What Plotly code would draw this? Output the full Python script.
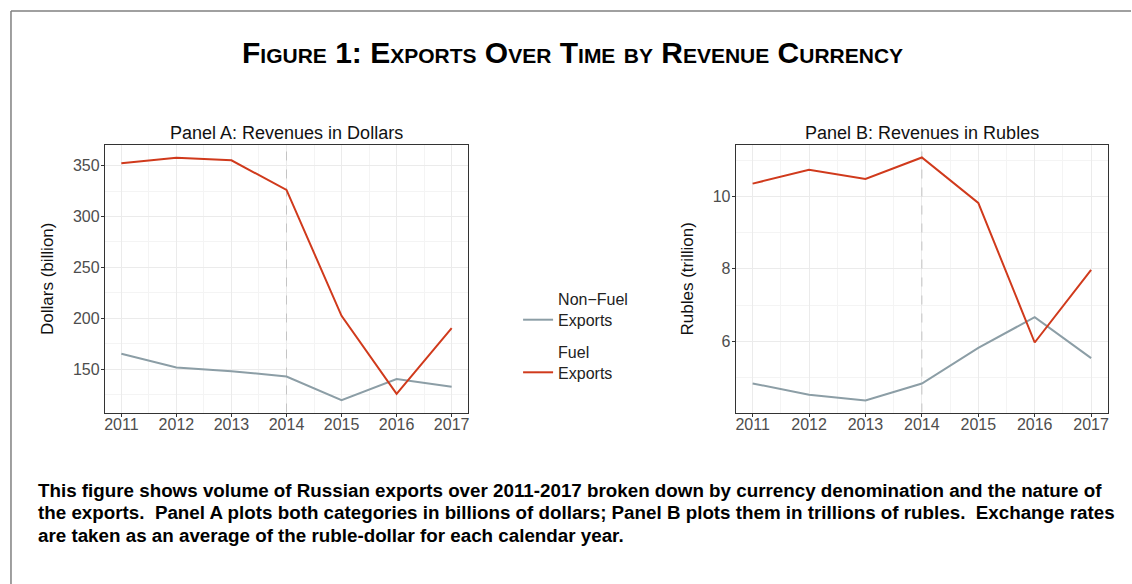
import plotly.graph_objects as go

years = [2011, 2012, 2013, 2014, 2015, 2016, 2017]
fuel_usd = [352.3, 357.8, 355.3, 326.1, 202.4, 125.8, 190.3]
nonfuel_usd = [165.1, 151.6, 148.0, 142.8, 119.6, 140.2, 132.6]
fuel_rub = [10.35, 10.73, 10.48, 11.07, 9.82, 5.97, 7.97]
nonfuel_rub = [4.84, 4.53, 4.37, 4.84, 5.82, 6.67, 5.54]
event_year = 2014

series_names = ["Non\u2212Fuel<br>Exports", "Fuel<br>Exports"]
panel_titles = ["Panel A: Revenues in Dollars", "Panel B: Revenues in Rubles"]
y_titles = ["Dollars (billion)", "Rubles (trillion)"]
main_title = "Figure 1: Exports Over Time by Revenue Currency"
caption_lines = [
    "This figure shows volume of Russian exports over 2011-2017 broken down by currency denomination and the nature of",
    "the exports.  Panel A plots both categories in billions of dollars; Panel B plots them in trillions of rubles.  Exchange rates",
    "are taken as an average of the ruble-dollar for each calendar year.",
]

RED = "#d03a1c"
GREY = "#8c9ea6"
W, H = 1132, 584
FONT = "Liberation Sans, Arial"

fig = go.Figure()

# Dashed reference line at event year (drawn as traces beneath the data lines)
for xa, ya, rng in [("x", "y", [107.4, 370.3]), ("x2", "y2", [4.04, 11.415])]:
    fig.add_trace(go.Scatter(x=[event_year, event_year], y=rng, mode="lines", showlegend=False,
                             hoverinfo="skip", line=dict(color="#c4c4c4", width=1, dash="dash"),
                             xaxis=xa, yaxis=ya))

fig.add_trace(go.Scatter(x=years, y=nonfuel_usd, mode="lines", name=series_names[0],
                         line=dict(color=GREY, width=2), xaxis="x", yaxis="y", legendgroup="nf"))
fig.add_trace(go.Scatter(x=years, y=fuel_usd, mode="lines", name=series_names[1],
                         line=dict(color=RED, width=2), xaxis="x", yaxis="y", legendgroup="f"))
fig.add_trace(go.Scatter(x=years, y=nonfuel_rub, mode="lines", name=series_names[0], showlegend=False,
                         line=dict(color=GREY, width=2), xaxis="x2", yaxis="y2", legendgroup="nf"))
fig.add_trace(go.Scatter(x=years, y=fuel_rub, mode="lines", name=series_names[1], showlegend=False,
                         line=dict(color=RED, width=2), xaxis="x2", yaxis="y2", legendgroup="f"))

def px_x(v):
    return v / W

def px_y(v):
    return 1 - v / H

tickfont = dict(family=FONT, size=16, color="#4d4d4d")
common_x = dict(range=[2010.7, 2017.3], tickmode="linear", tick0=2011, dtick=1,
                showgrid=True, gridcolor="#ebebeb", gridwidth=1,
                minor=dict(showgrid=True, dtick=0.5, tick0=2011, gridcolor="#f4f4f4", gridwidth=1),
                showline=True, linecolor="#333333", linewidth=1, mirror=True,
                ticks="outside", ticklen=3, tickcolor="#333333", tickfont=tickfont, zeroline=False,
                ticklabelstandoff=-6)
common_y = dict(showgrid=True, gridcolor="#ebebeb", gridwidth=1,
                showline=True, linecolor="#333333", linewidth=1, mirror=True,
                ticks="outside", ticklen=3, tickcolor="#333333", tickfont=tickfont, zeroline=False,
                ticklabelstandoff=-2,
                title_font=dict(family=FONT, size=17, color="#111111"))

y_dom = [px_y(412.5), px_y(145)]
fig.update_layout(
    width=W, height=H,
    margin=dict(l=0, r=0, t=0, b=0),
    paper_bgcolor="white", plot_bgcolor="white",
    xaxis=dict(domain=[px_x(104), px_x(468)], anchor="y", **common_x),
    yaxis=dict(domain=y_dom, anchor="x", range=[107.4, 370.3], tickmode="linear", tick0=150, dtick=50,
               minor=dict(showgrid=True, dtick=50, tick0=125, gridcolor="#f4f4f4", gridwidth=1),
               title_text=y_titles[0], title_standoff=14, **common_y),
    xaxis2=dict(domain=[px_x(736), px_x(1109)], anchor="y2", **common_x),
    yaxis2=dict(domain=y_dom, anchor="x2", range=[4.04, 11.415], tickmode="linear", tick0=6, dtick=2,
                minor=dict(showgrid=True, dtick=2, tick0=5, gridcolor="#f4f4f4", gridwidth=1),
                title_text=y_titles[1], title_standoff=14, **common_y),
    showlegend=True,
    legend=dict(x=px_x(518), y=px_y(282), xanchor="left", yanchor="top",
                font=dict(family=FONT, size=16, color="#222222"),
                valign="bottom", tracegroupgap=8, itemwidth=30, bgcolor="rgba(0,0,0,0)"),
)

# Panel titles
for i, t in enumerate(panel_titles):
    xc = [(104 + 468) / 2, (736 + 1109) / 2][i]
    fig.add_annotation(text=t, x=px_x(xc), y=px_y(133), xref="paper", yref="paper",
                       showarrow=False, xanchor="center", yanchor="middle",
                       font=dict(family=FONT, size=18, color="#111111"))

# Main title (small caps)
fig.add_annotation(text="<b>" + main_title + "</b>", x=px_x(573), y=px_y(53), xref="paper", yref="paper",
                   showarrow=False, xanchor="center", yanchor="middle",
                   font=dict(family=FONT, size=30, color="black", variant="small-caps"))

# Caption
for i, line in enumerate(caption_lines):
    fig.add_annotation(text="<b>" + line + "</b>", x=px_x(35), y=px_y([490, 512, 535][i]),
                       xref="paper", yref="paper", showarrow=False, xanchor="left", yanchor="middle",
                       font=dict(family=FONT, size=18.8, color="black"))

# Outer frame lines
fig.add_shape(type="line", x0=px_x(10), x1=1, y0=px_y(11), y1=px_y(11), xref="paper", yref="paper",
              line=dict(color="#808080", width=1.5))
fig.add_shape(type="line", x0=px_x(10), x1=px_x(10), y0=px_y(11), y1=0, xref="paper", yref="paper",
              line=dict(color="#808080", width=1.5))

fig.write_html("out.html")
